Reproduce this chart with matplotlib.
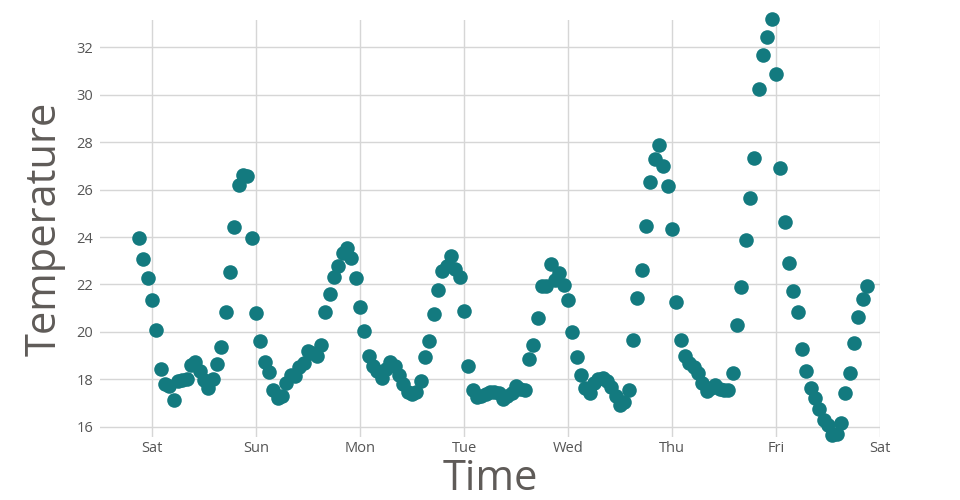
import pandas as pd
import matplotlib.pyplot as plt
import matplotlib.dates as mdates

# hourly readings, Fri 21:00 through the following Fri 21:00
start = "2021-01-01 21:00"
temps = [
    23.95, 23.07, 22.27, 21.35, 20.10, 18.43, 17.79, 17.70, 17.12, 17.92,
    17.97, 18.00, 18.62, 18.72, 18.35, 17.97, 17.65, 18.02, 18.65, 19.38,
    20.82, 22.52, 24.42, 26.20, 26.60, 26.57, 23.97, 20.78, 19.60, 18.73,
    18.32, 17.55, 17.20, 17.30, 17.86, 18.18, 18.14, 18.53, 18.70, 19.18,
    19.10, 18.98, 19.45, 20.85, 21.60, 22.33, 22.80, 23.33, 23.52, 23.10,
    22.27, 21.03, 20.03, 18.99, 18.55, 18.35, 18.07, 18.42, 18.72, 18.58,
    18.20, 17.80, 17.45, 17.37, 17.45, 17.92, 18.93, 19.62, 20.75, 21.77,
    22.58, 22.80, 23.22, 22.65, 22.33, 20.87, 18.55, 17.55, 17.25, 17.30,
    17.40, 17.45, 17.45, 17.42, 17.18, 17.30, 17.42, 17.72, 17.60, 17.55,
    18.85, 19.45, 20.57, 21.94, 21.92, 22.85, 22.20, 22.50, 21.97, 21.35,
    19.98, 18.95, 18.20, 17.65, 17.43, 17.83, 18.02, 18.04, 17.93, 17.68,
    17.30, 16.92, 17.05, 17.55, 19.65, 21.45, 22.60, 24.45, 26.33, 27.30,
    27.88, 27.00, 26.15, 24.32, 21.27, 19.65, 18.98, 18.67, 18.52, 18.28,
    17.83, 17.50, 17.65, 17.76, 17.60, 17.55, 17.55, 18.28, 20.28, 21.90,
    23.88, 25.65, 27.35, 30.25, 31.68, 32.43, 33.18, 30.88, 26.90, 24.62,
    22.89, 21.73, 20.85, 19.28, 18.36, 17.65, 17.22, 16.73, 16.27, 16.08,
    15.65, 15.68, 16.14, 17.41, 18.28, 19.54, 20.64, 21.40, 21.94,
]
times = pd.date_range(start, periods=len(temps), freq="h")
yticks = [16, 18, 20, 22, 24, 26, 28, 30, 32]

plt.rcParams["font.family"] = ["Open Sans", "DejaVu Sans"]

fig = plt.figure(figsize=(9.6, 5), dpi=100)
ax = fig.add_axes([0.1042, 0.126, 0.8125, 0.834])

ax.scatter(times, temps, s=110, color="#137a7f", zorder=3, linewidths=0,
           clip_on=False)

ax.set_xlim(pd.Timestamp("2021-01-01 12:00"), pd.Timestamp("2021-01-09 00:00"))
ax.set_ylim(15.57, 33.15)
ax.set_yticks(yticks)
ax.xaxis.set_major_locator(mdates.DayLocator())
ax.xaxis.set_major_formatter(mdates.DateFormatter("%a"))

ax.grid(color="#d6d6d6", linewidth=1, zorder=0)
for s in ax.spines.values():
    s.set_visible(False)
ax.tick_params(length=0, labelsize=10.5, labelcolor="#555555")
ax.tick_params(axis="y", pad=5)
ax.tick_params(axis="x", pad=3)

ax.set_xlabel("Time", fontsize=30, color="#5f5b58", labelpad=1)
ax.set_ylabel("Temperature", fontsize=30, color="#5f5b58", labelpad=8)

fig.savefig("out.png", dpi=100)
